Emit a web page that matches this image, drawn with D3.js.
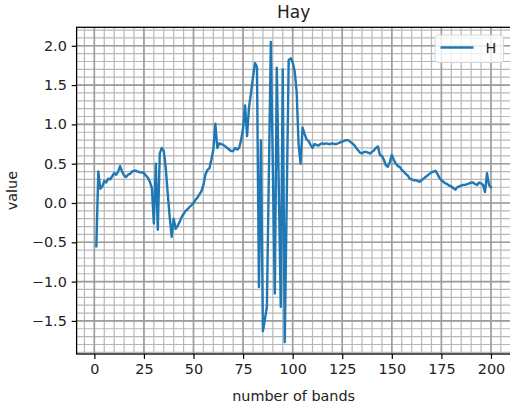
<!DOCTYPE html>
<html>
<head>
<meta charset="utf-8">
<script src="https://cdn.jsdelivr.net/npm/d3@7"></script>
<style>
  html, body { margin: 0; padding: 0; background: #fff; }
  svg { display: block; font-family: "DejaVu Sans", sans-serif; }
</style>
</head>
<body>
<svg id="chart" width="510" height="409"></svg>
<script>
// Spectral response of the "Hay" class, one value per band (bands 1..200)
const bands = d3.range(1, 201);
const hayValues = [
  -0.55, 0.40, 0.18, 0.21, 0.28, 0.26, 0.31, 0.30, 0.34, 0.38,
   0.36, 0.40, 0.47, 0.40, 0.35, 0.33, 0.36, 0.37, 0.40, 0.41,
   0.41, 0.40, 0.39, 0.39, 0.38, 0.35, 0.32, 0.27, 0.19, -0.26,
   0.50, -0.34, 0.63, 0.70, 0.66, 0.45, 0.12, -0.18, -0.43, -0.20,
  -0.33, -0.29, -0.24, -0.18, -0.14, -0.10, -0.08, -0.05, -0.03, 0.00,
   0.04, 0.07, 0.11, 0.15, 0.23, 0.36, 0.42, 0.44, 0.55, 0.68,
   1.01, 0.70, 0.76, 0.75, 0.74, 0.72, 0.70, 0.68, 0.66, 0.66,
   0.70, 0.68, 0.70, 0.80, 0.95, 1.24, 0.85, 1.22, 1.40, 1.60,
   1.78, 1.73, -1.07, 0.80, -1.63, -1.48, -1.32, 0.37, 2.05, 0.45,
  -1.15, 1.72, 0.20, -1.32, 1.70, -1.77, 0.02, 1.82, 1.84, 1.79,
   1.68, 1.42, 0.74, 0.50, 0.96, 0.88, 0.81, 0.79, 0.74, 0.70,
   0.75, 0.74, 0.73, 0.75, 0.76, 0.75, 0.76, 0.75, 0.75, 0.76,
   0.75, 0.75, 0.76, 0.77, 0.78, 0.79, 0.80, 0.80, 0.78, 0.76,
   0.74, 0.70, 0.67, 0.64, 0.63, 0.65, 0.65, 0.64, 0.63, 0.65,
   0.67, 0.70, 0.72, 0.61, 0.60, 0.55, 0.48, 0.46, 0.52, 0.61,
   0.55, 0.50, 0.47, 0.46, 0.42, 0.40, 0.37, 0.35, 0.31, 0.30,
   0.29, 0.29, 0.28, 0.27, 0.29, 0.31, 0.33, 0.35, 0.37, 0.39,
   0.40, 0.41, 0.37, 0.32, 0.29, 0.27, 0.25, 0.24, 0.22, 0.21,
   0.19, 0.17, 0.20, 0.21, 0.22, 0.23, 0.23, 0.24, 0.25, 0.26,
   0.26, 0.24, 0.23, 0.26, 0.25, 0.23, 0.14, 0.38, 0.23, 0.20
];

const xTicks = [0, 25, 50, 75, 100, 125, 150, 175, 200];
const yTicks = [-1.5, -1.0, -0.5, 0.0, 0.5, 1.0, 1.5, 2.0];
const xMinor = d3.range(-5, 206, 5);
const yMinor = d3.range(-19, 23).map(v => v / 10);

const titleText = "Hay";
const xLabel = "number of bands";
const yLabel = "value";
const seriesName = "H";

const svg = d3.select("#chart");
const plot = { left: 76.6, right: 510.7, top: 27.3, bottom: 354 };

const x = d3.scaleLinear().domain([-8.95, 209.95]).range([plot.left, plot.right]);
const y = d3.scaleLinear().domain([-1.921, 2.235]).range([plot.bottom, plot.top]);

const fmtY = v => (v < 0 ? "\u2212" : "") + Math.abs(v).toFixed(1);

// grid: minor first, major on top
const grid = svg.append("g");
grid.selectAll("line.vminor").data(xMinor).join("line")
  .attr("x1", d => x(d)).attr("x2", d => x(d))
  .attr("y1", plot.top).attr("y2", plot.bottom)
  .attr("stroke", "#b8b8b8").attr("stroke-width", 1.2);
grid.selectAll("line.hminor").data(yMinor).join("line")
  .attr("x1", plot.left).attr("x2", plot.right)
  .attr("y1", d => y(d)).attr("y2", d => y(d))
  .attr("stroke", "#b8b8b8").attr("stroke-width", 1.2);
grid.selectAll("line.vmajor").data(xTicks).join("line")
  .attr("x1", d => x(d)).attr("x2", d => x(d))
  .attr("y1", plot.top).attr("y2", plot.bottom)
  .attr("stroke", "#9e9e9e").attr("stroke-width", 1.6);
grid.selectAll("line.hmajor").data(yTicks).join("line")
  .attr("x1", plot.left).attr("x2", plot.right)
  .attr("y1", d => y(d)).attr("y2", d => y(d))
  .attr("stroke", "#9e9e9e").attr("stroke-width", 1.6);

// the series line
const line = d3.line()
  .x((d, i) => x(bands[i]))
  .y(d => y(d));
svg.append("path")
  .datum(hayValues)
  .attr("d", line)
  .attr("fill", "none")
  .attr("stroke", "#1f77b4")
  .attr("stroke-width", 2.4)
  .attr("stroke-linejoin", "round")
  .attr("stroke-linecap", "square");

// axes
const xAxis = d3.axisBottom(x).tickValues(xTicks).tickSize(4.9).tickPadding(4.9)
  .tickFormat(d3.format("d"));
const yAxis = d3.axisLeft(y).tickValues(yTicks).tickSize(4.9).tickPadding(4.9)
  .tickFormat(fmtY);

const gx = svg.append("g").attr("transform", `translate(0,${plot.bottom})`).call(xAxis);
const gy = svg.append("g").attr("transform", `translate(${plot.left},0)`).call(yAxis);
[gx, gy].forEach(g => {
  g.select(".domain").remove();
  g.selectAll(".tick line").attr("stroke", "#000").attr("stroke-width", 1.2);
  g.selectAll(".tick text").attr("fill", "#222")
    .style("font-size", "14.4px").style("font-family", "DejaVu Sans, sans-serif");
});

// frame
svg.append("rect")
  .attr("x", plot.left).attr("y", plot.top)
  .attr("width", plot.right - plot.left).attr("height", plot.bottom - plot.top)
  .attr("fill", "none").attr("stroke", "#000").attr("stroke-width", 1.3);

// title and axis labels
svg.append("text")
  .attr("x", (plot.left + plot.right) / 2).attr("y", 18)
  .attr("text-anchor", "middle")
  .attr("fill", "#222")
  .style("font-size", "17px")
  .text(titleText);
svg.append("text")
  .attr("x", (plot.left + plot.right) / 2).attr("y", 401)
  .attr("text-anchor", "middle")
  .attr("fill", "#222")
  .style("font-size", "14.4px")
  .text(xLabel);
svg.append("text")
  .attr("transform", `translate(17,${(plot.top + plot.bottom) / 2}) rotate(-90)`)
  .attr("text-anchor", "middle")
  .attr("fill", "#222")
  .style("font-size", "14.4px")
  .text(yLabel);

// legend
const lg = svg.append("g").attr("transform", "translate(435,35)");
lg.append("rect")
  .attr("width", 68.5).attr("height", 27.5).attr("rx", 3)
  .attr("fill", "#fff").attr("fill-opacity", 0.8)
  .attr("stroke", "#d6d6d6").attr("stroke-width", 1);
lg.append("line")
  .attr("x1", 5.5).attr("x2", 38.5).attr("y1", 12.5).attr("y2", 12.5)
  .attr("stroke", "#1f77b4").attr("stroke-width", 2.4);
lg.append("text")
  .attr("x", 50.5).attr("y", 17.5)
  .attr("fill", "#222")
  .style("font-size", "14.4px")
  .text(seriesName);
</script>
</body>
</html>
